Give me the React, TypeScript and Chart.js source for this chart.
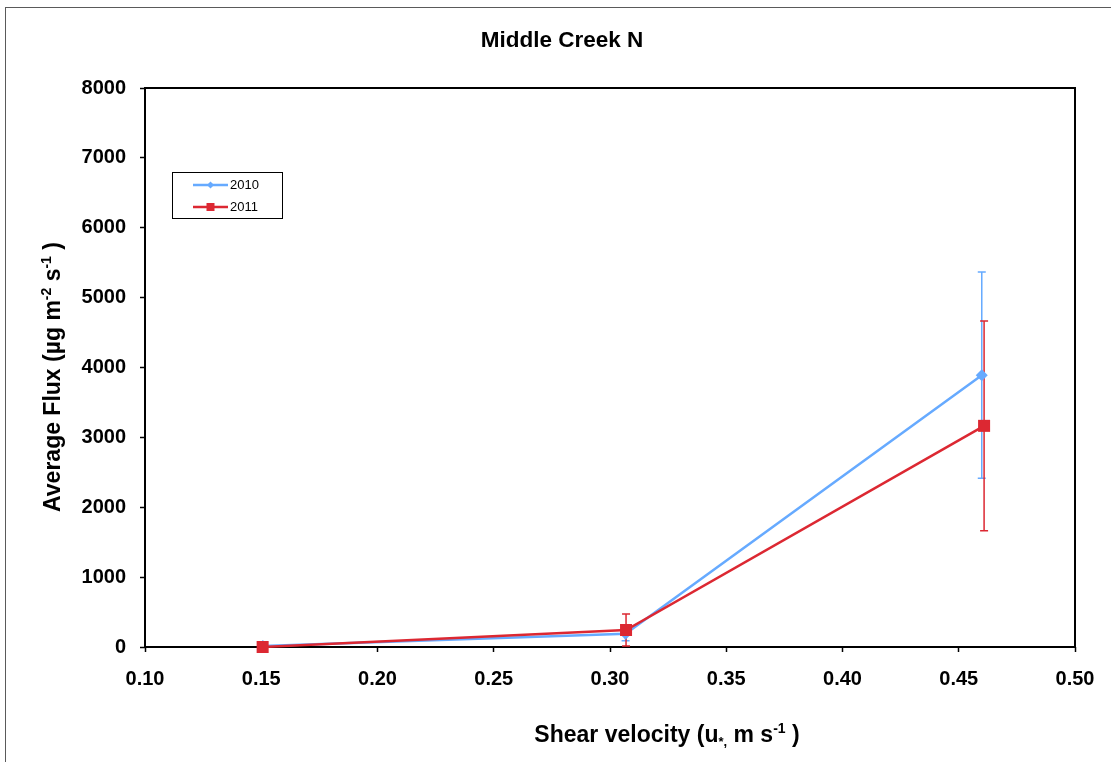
import React, { useEffect, useRef } from "react";
import { Chart, registerables } from "chart.js";

Chart.register(...registerables);

// ---- data ----
const seriesNames = ["2010", "2011"];
const x2010 = [0.1507, 0.3067, 0.4599];
const y2010 = [15, 190, 3890];
const err2010 = [0, 100, 1475];
const x2011 = [0.1506, 0.3069, 0.4609];
const y2011 = [0, 243, 3165];
const err2011 = [0, 230, 1500];

const xTickValues = [0.1, 0.15, 0.2, 0.25, 0.3, 0.35, 0.4, 0.45, 0.5];
const xTickLabels = ["0.10", "0.15", "0.20", "0.25", "0.30", "0.35", "0.40", "0.45", "0.50"];
const yTickValues = [0, 1000, 2000, 3000, 4000, 5000, 6000, 7000, 8000];
const yTickLabels = ["0", "1000", "2000", "3000", "4000", "5000", "6000", "7000", "8000"];

const chartTitle = "Middle Creek N";

const FONT = "'Liberation Sans', Arial, sans-serif";
const BLUE = "#66AAFF";
const RED = "#DC2832";

type Seg = { t: string; size: number; dy: number };

function drawRich(ctx: CanvasRenderingContext2D, segs: Seg[], cx: number, baseY: number) {
  let total = 0;
  const widths: number[] = [];
  for (const s of segs) {
    ctx.font = `bold ${s.size}px ${FONT}`;
    const w = ctx.measureText(s.t).width;
    widths.push(w);
    total += w;
  }
  let x = cx - total / 2;
  ctx.textAlign = "left";
  ctx.textBaseline = "alphabetic";
  segs.forEach((s, i) => {
    ctx.font = `bold ${s.size}px ${FONT}`;
    ctx.fillText(s.t, x, baseY + s.dy);
    x += widths[i];
  });
}

const errorBarPlugin = {
  id: "errorBars",
  beforeDatasetsDraw(chart: any) {
    const ctx = chart.ctx as CanvasRenderingContext2D;
    const xs = chart.scales.x;
    const ys = chart.scales.y;
    const a = chart.chartArea;
    // plot frame
    ctx.save();
    ctx.strokeStyle = "#000";
    ctx.lineWidth = 2;
    ctx.strokeRect(a.left, a.top, a.right - a.left, a.bottom - a.top);
    ctx.restore();

    const sets = [
      { xv: x2010, yv: y2010, ev: err2010, color: BLUE },
      { xv: x2011, yv: y2011, ev: err2011, color: RED },
    ];
    ctx.save();
    ctx.lineWidth = 1.5;
    for (const s of sets) {
      ctx.strokeStyle = s.color;
      s.xv.forEach((xv, i) => {
        const e = s.ev[i];
        if (!e) return;
        const px = xs.getPixelForValue(xv);
        const top = ys.getPixelForValue(s.yv[i] + e);
        const bot = ys.getPixelForValue(Math.max(0, s.yv[i] - e));
        ctx.beginPath();
        ctx.moveTo(px, top);
        ctx.lineTo(px, bot);
        ctx.moveTo(px - 4, top);
        ctx.lineTo(px + 4, top);
        ctx.moveTo(px - 4, bot);
        ctx.lineTo(px + 4, bot);
        ctx.stroke();
      });
    }
    ctx.restore();
  },
  afterDraw(chart: any) {
    const ctx = chart.ctx as CanvasRenderingContext2D;
    ctx.save();
    // outer border
    ctx.strokeStyle = "#5a5a5a";
    ctx.lineWidth = 1;
    ctx.strokeRect(5.5, 7.5, 1300, 900);

    ctx.fillStyle = "#000";
    // title
    drawRich(ctx, [{ t: chartTitle, size: 22.5, dy: 0 }], 562, 47);
    // x title
    drawRich(
      ctx,
      [
        { t: "Shear velocity (u", size: 23, dy: 0 },
        { t: "*,", size: 13, dy: 4 },
        { t: " m s", size: 23, dy: 0 },
        { t: "-1", size: 14, dy: -9 },
        { t: " )", size: 23, dy: 0 },
      ],
      667,
      742
    );
    // y title
    ctx.save();
    ctx.translate(60, 377);
    ctx.rotate(-Math.PI / 2);
    drawRich(
      ctx,
      [
        { t: "Average Flux (µg m", size: 23, dy: 0 },
        { t: "-2", size: 14, dy: -9 },
        { t: " s", size: 23, dy: 0 },
        { t: "-1", size: 14, dy: -9 },
        { t: " )", size: 23, dy: 0 },
      ],
      0,
      0
    );
    ctx.restore();

    // legend
    ctx.strokeStyle = "#000";
    ctx.lineWidth = 1;
    ctx.strokeRect(172.5, 172.5, 110, 46);
    const entries = [
      { name: seriesNames[0], color: BLUE, y: 185, marker: "diamond" },
      { name: seriesNames[1], color: RED, y: 207, marker: "square" },
    ];
    for (const en of entries) {
      ctx.strokeStyle = en.color;
      ctx.lineWidth = 2.5;
      ctx.beginPath();
      ctx.moveTo(193, en.y);
      ctx.lineTo(228, en.y);
      ctx.stroke();
      ctx.fillStyle = en.color;
      ctx.beginPath();
      if (en.marker === "diamond") {
        ctx.moveTo(210.5, en.y - 3.5);
        ctx.lineTo(214, en.y);
        ctx.lineTo(210.5, en.y + 3.5);
        ctx.lineTo(207, en.y);
        ctx.closePath();
      } else {
        ctx.rect(206.5, en.y - 4, 8, 8);
      }
      ctx.fill();
      ctx.fillStyle = "#000";
      ctx.font = `13px ${FONT}`;
      ctx.textAlign = "left";
      ctx.textBaseline = "middle";
      ctx.fillText(en.name, 230, en.y + 0.5);
    }
    ctx.restore();
  },
};

export default function App() {
  const ref = useRef<HTMLCanvasElement | null>(null);

  useEffect(() => {
    document.body.style.margin = "0";
    const canvas = ref.current;
    if (!canvas) return;
    const tickFont = { family: FONT, size: 20, weight: "bold" as const };
    const chart = new Chart(canvas, {
      type: "line",
      data: {
        datasets: [
          {
            label: seriesNames[0],
            data: x2010.map((x, i) => ({ x, y: y2010[i] })),
            borderColor: BLUE,
            backgroundColor: BLUE,
            borderWidth: 2.5,
            pointStyle: "rectRot",
            pointRadius: 6,
            pointBorderWidth: 0,
            order: 1,
            clip: false as any,
          },
          {
            label: seriesNames[1],
            data: x2011.map((x, i) => ({ x, y: y2011[i] })),
            borderColor: RED,
            backgroundColor: RED,
            borderWidth: 2.5,
            pointStyle: "rect",
            pointRadius: 8.5,
            pointBorderWidth: 0,
            order: 0,
            clip: false as any,
          },
        ],
      },
      options: {
        responsive: false,
        animation: false,
        devicePixelRatio: 1,
        layout: { padding: { top: 88, right: 36, left: 0, bottom: 0 } },
        plugins: {
          legend: { display: false },
          title: { display: false },
          tooltip: { enabled: false },
        },
        scales: {
          x: {
            type: "linear",
            min: 0.1,
            max: 0.5,
            afterBuildTicks: (s: any) => {
              s.ticks = xTickValues.map((v) => ({ value: v }));
            },
            afterFit: (s: any) => {
              s.height = 115;
            },
            ticks: {
              autoSkip: false,
              maxRotation: 0,
              padding: 15,
              color: "#000",
              font: tickFont,
              callback: (_v: any, i: number) => xTickLabels[i],
            },
            grid: {
              drawOnChartArea: false,
              drawTicks: true,
              tickLength: 5,
              tickColor: "#000",
              tickWidth: 1.5,
            },
            border: { display: false },
          },
          y: {
            type: "linear",
            min: 0,
            max: 8000,
            afterBuildTicks: (s: any) => {
              s.ticks = yTickValues.map((v) => ({ value: v }));
            },
            afterFit: (s: any) => {
              s.width = 145;
            },
            ticks: {
              padding: 14,
              color: "#000",
              font: tickFont,
              callback: (_v: any, i: number) => yTickLabels[i],
            },
            grid: {
              drawOnChartArea: false,
              drawTicks: true,
              tickLength: 5,
              tickColor: "#000",
              tickWidth: 1.5,
            },
            border: { display: false },
          },
        },
      },
      plugins: [errorBarPlugin],
    });
    return () => chart.destroy();
  }, []);

  return (
    <div style={{ width: 1111, height: 762, position: "relative", background: "#fff" }}>
      <canvas ref={ref} width={1111} height={762} style={{ display: "block" }} />
    </div>
  );
}
